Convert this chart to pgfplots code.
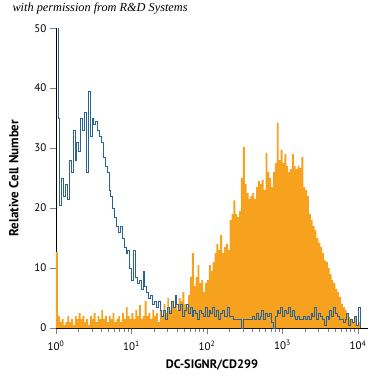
\documentclass[border=0pt]{standalone}
\usepackage{pgfplots}
\pgfplotsset{compat=1.18}
\usepackage{fontspec}
\setmainfont{PT Sans}
\newfontfamily\scriptf{Liberation Serif}
\definecolor{orangec}{RGB}{247,162,30}
\definecolor{bluec}{RGB}{42,98,145}
\begin{document}
\begin{tikzpicture}
\draw[draw=none] (-56pt,-47pt) rectangle (319pt,328pt);
\begin{axis}[
  scale only axis, width=312pt, height=300pt,
  xmin=0, xmax=4.13, ymin=0, ymax=50,
  axis x line=bottom, axis y line=left,
  axis line style={-, black, line width=0.8pt},
  xtick={0,1,2,3,4},
  xticklabels={10\textsuperscript{0},10\textsuperscript{1},10\textsuperscript{2},10\textsuperscript{3},10\textsuperscript{4}},
  minor xtick={0.301,0.477,0.602,0.699,0.778,0.845,0.903,0.954,
    1.301,1.477,1.602,1.699,1.778,1.845,1.903,1.954,
    2.301,2.477,2.602,2.699,2.778,2.845,2.903,2.954,
    3.301,3.477,3.602,3.699,3.778,3.845,3.903,3.954},
  ytick={0,10,20,30,40,50},
  /pgf/number format/assume math mode=true,
  tick style={gray, line width=0.6pt},
  tick align=outside,
  major tick length=6pt, minor tick length=4pt,
  ticklabel style={font=\fontsize{11}{12}\selectfont},
  xticklabel style={yshift=-3pt},
  xlabel={\textbf{DC-SIGNR/CD299}},
  ylabel={\textbf{Relative Cell Number}},
  xlabel style={font=\fontsize{12.3}{14}\selectfont, at={(axis description cs:0.5,0)}, anchor=center, yshift=-37pt},
  ylabel style={font=\fontsize{13}{14}\selectfont, at={(axis description cs:-0.135,0.5)}, anchor=center},
  title={\scriptf\itshape with permission from R\&D Systems},
  title style={font=\fontsize{12.3}{13}\selectfont, at={(axis description cs:0,1)}, anchor=south west, xshift=-47pt, yshift=4pt},
  clip=true,
]
\addplot[const plot, fill=orangec, draw=none] table {
x y
0.000 12.7
0.025 2
0.050 1
0.075 1.5
0.100 0.5
0.125 1
0.150 2
0.175 1
0.200 1.5
0.225 0.5
0.250 2
0.275 1.5
0.300 2.5
0.325 1.5
0.350 2
0.375 1
0.400 1.5
0.425 0.5
0.450 2
0.475 1.5
0.500 2.5
0.525 1
0.550 2
0.575 1.5
0.600 3
0.625 1.5
0.650 2
0.675 1
0.700 2
0.725 1.5
0.750 2.5
0.775 1
0.800 1.5
0.825 2
0.850 1
0.875 2.5
0.900 1.5
0.925 3.5
0.950 2
0.975 1.5
1.000 2.5
1.025 1.5
1.050 3
1.075 2
1.100 3.8
1.125 1.5
1.150 2
1.175 4.5
1.200 2
1.225 2.5
1.250 1.5
1.275 3
1.300 2
1.325 2.5
1.350 1
1.375 3
1.400 2
1.425 4
1.450 2.5
1.475 5
1.500 3
1.525 4.5
1.550 3.5
1.575 5
1.600 3
1.625 5
1.650 4.5
1.675 6
1.700 4
1.725 3.5
1.750 5.5
1.775 8.5
1.800 12.5
1.825 7
1.850 8.5
1.875 10.5
1.900 7.5
1.925 8
1.950 6
1.975 7.5
2.000 8
2.025 10.5
2.050 9.5
2.075 11
2.100 12.5
2.125 14
2.150 13
2.175 15.5
2.200 12.5
2.225 13.5
2.250 14
2.275 13
2.300 18
2.325 19
2.350 21.3
2.375 19
2.400 18.5
2.425 19.5
2.450 25
2.475 30.2
2.500 24
2.525 22.5
2.550 21.5
2.575 22
2.600 22.5
2.625 21.5
2.650 23.5
2.675 24.5
2.700 24
2.725 24.7
2.750 23
2.775 29.2
2.800 26
2.825 25
2.850 23.5
2.875 26
2.900 27.5
2.925 34.2
2.950 28
2.975 29.7
3.000 27.5
3.025 29
3.050 27
3.075 26
3.100 26.5
3.125 29
3.150 27
3.175 26.5
3.200 27
3.225 26.7
3.250 28.5
3.275 23.5
3.300 23
3.325 22
3.350 19
3.375 18
3.400 17
3.425 16.3
3.450 15
3.475 14.2
3.500 13.5
3.525 12.5
3.550 11.3
3.575 11
3.600 10
3.625 9
3.650 8
3.675 7.5
3.700 6.5
3.725 6
3.750 5.2
3.775 4
3.800 3.5
3.825 3
3.850 2.5
3.875 1.8
3.900 1.5
3.925 1
3.950 1.8
3.975 0.5
4.000 1
4.025 0
} \closedcycle;
\addplot[const plot, color=bluec, line width=0.6pt] table {
x y
0.000 52
0.025 35
0.050 20.5
0.075 25
0.100 22
0.125 24
0.150 21.5
0.175 28
0.200 26
0.225 33
0.250 28
0.275 31
0.300 29.5
0.325 35
0.350 33
0.375 36
0.400 26
0.425 39.4
0.450 32
0.475 35
0.500 34
0.525 34.5
0.550 33
0.575 32
0.600 31
0.625 28.5
0.650 27
0.675 26
0.700 23
0.725 22
0.750 20
0.775 18.5
0.800 17
0.825 16
0.850 17
0.875 15
0.900 13.5
0.925 12.5
0.950 13
0.975 10
1.000 8
1.025 13
1.050 8.5
1.075 7.5
1.100 8
1.125 6.5
1.150 9.5
1.175 7
1.200 6
1.225 5
1.250 5.5
1.275 4
1.300 4.5
1.325 3.5
1.350 4.5
1.375 3
1.400 2
1.425 3
1.450 1.5
1.475 3.5
1.500 2.5
1.525 4.5
1.550 3.5
1.575 5.5
1.600 4
1.625 3
1.650 4
1.675 2
1.700 3
1.725 4
1.750 2.5
1.775 3.5
1.800 2
1.825 3
1.850 2.5
1.875 1.5
1.900 3
1.925 2.5
1.950 2
1.975 3.5
2.000 2
2.025 3
2.050 2.5
2.075 3.5
2.100 2
2.125 3
2.150 1.5
2.175 2.5
2.200 3
2.225 2
2.250 2
2.275 3.5
2.300 2
2.325 2
2.350 1.5
2.375 1.5
2.400 1.5
2.425 1.5
2.450 0
2.475 1.5
2.500 1.5
2.525 1.5
2.550 1.5
2.575 1.5
2.600 2
2.625 1.5
2.650 2.5
2.675 1.5
2.700 2
2.725 3
2.750 1.5
2.775 2.5
2.800 2
2.825 2.5
2.850 1
2.875 0
2.900 2
2.925 3
2.950 2.5
2.975 3.5
3.000 2
3.025 3
3.050 2.5
3.075 3.5
3.100 2
3.125 3
3.150 2
3.175 1.5
3.200 2
3.225 1.5
3.250 1.5
3.275 2
3.300 1.5
3.325 2
3.350 1.5
3.375 2.5
3.400 2
3.425 3.5
3.450 1.5
3.475 2.5
3.500 2
3.525 1.5
3.550 0.5
3.575 2
3.600 1.5
3.625 3
3.650 2
3.675 3.5
3.700 2.5
3.725 2
3.750 1.5
3.775 1.5
3.800 1
3.825 1.5
3.850 2.5
3.875 0.5
3.900 1.5
3.925 1
3.950 2
3.975 0.5
4.000 3.5
4.025 0
};
\end{axis}
\end{tikzpicture}
\end{document}
